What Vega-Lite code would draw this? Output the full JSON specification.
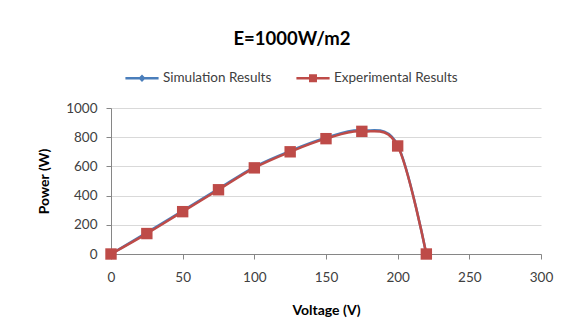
{
  "$schema": "https://vega.github.io/schema/vega-lite/v6.json",
  "width": 430,
  "height": 146,
  "autosize": {"type": "none"},
  "padding": {"left": 111, "top": 108, "right": 28, "bottom": 82},
  "background": "white",
  "title": {"text": "E=1000W/m2", "font": "Lato", "fontSize": 18.5, "fontWeight": "bold", "color": "#000000", "anchor": "middle", "dx": -34, "offset": 13},
  "datasets": {
    "sim": [
      {"v": 0, "p": 0, "series": "Simulation Results"},
      {"v": 25, "p": 146, "series": "Simulation Results"},
      {"v": 50, "p": 296, "series": "Simulation Results"},
      {"v": 75, "p": 446, "series": "Simulation Results"},
      {"v": 100, "p": 596, "series": "Simulation Results"},
      {"v": 125, "p": 705, "series": "Simulation Results"},
      {"v": 150, "p": 796, "series": "Simulation Results"},
      {"v": 175, "p": 846, "series": "Simulation Results"},
      {"v": 200, "p": 745, "series": "Simulation Results"},
      {"v": 220, "p": 0, "series": "Simulation Results"}
    ],
    "exp": [
      {"v": 0, "p": 0, "series": "Experimental Results"},
      {"v": 25, "p": 140, "series": "Experimental Results"},
      {"v": 50, "p": 290, "series": "Experimental Results"},
      {"v": 75, "p": 440, "series": "Experimental Results"},
      {"v": 100, "p": 590, "series": "Experimental Results"},
      {"v": 125, "p": 700, "series": "Experimental Results"},
      {"v": 150, "p": 790, "series": "Experimental Results"},
      {"v": 175, "p": 840, "series": "Experimental Results"},
      {"v": 200, "p": 740, "series": "Experimental Results"},
      {"v": 220, "p": 0, "series": "Experimental Results"}
    ]
  },
  "encoding": {
    "x": {"field": "v", "type": "quantitative", "scale": {"domain": [0, 300], "nice": false},
      "axis": {"title": "Voltage (V)", "values": [0, 50, 100, 150, 200, 250, 300], "format": "d", "labelFlush": false, "grid": false, "tickSize": 5, "labelPadding": 11, "titlePadding": 20}},
    "y": {"field": "p", "type": "quantitative", "scale": {"domain": [0, 1000], "nice": false},
      "axis": {"title": "Power (W)", "values": [0, 200, 400, 600, 800, 1000], "format": "d", "labelFlush": false, "grid": true, "tickSize": 5, "labelPadding": 9, "titlePadding": 14}},
    "color": {"field": "series", "type": "nominal",
      "scale": {"domain": ["Simulation Results", "Experimental Results"], "range": ["#4a7ebb", "#be4b48"]},
      "legend": {"title": null, "orient": "none", "direction": "horizontal", "legendX": 14, "legendY": -47,
        "symbolSize": 1100, "columnPadding": 24, "labelOffset": 4,
        "encode": {"symbols": {"update": {
          "shape": {"signal": "datum.value === 'Simulation Results' ? 'M-1,-0.07H1V0.07H-1Z M0,-0.22L0.22,0L0,0.22L-0.22,0Z' : 'M-1,-0.07H1V0.07H-1Z M-0.24,-0.24H0.24V0.24H-0.24Z'"},
          "fill": {"signal": "datum.value === 'Simulation Results' ? '#4a7ebb' : '#be4b48'"},
          "stroke": {"value": "transparent"},
          "strokeWidth": {"value": 0},
          "opacity": {"value": 1}
        }}}}}
  },
  "layer": [
    {"data": {"name": "sim"}, "mark": {"type": "line", "interpolate": "cardinal", "strokeWidth": 2.5}},
    {"data": {"name": "sim"}, "mark": {"type": "point", "shape": "diamond", "filled": true, "size": 50, "opacity": 1}},
    {"data": {"name": "exp"}, "mark": {"type": "line", "interpolate": "cardinal", "strokeWidth": 2.5}},
    {"data": {"name": "exp"}, "mark": {"type": "point", "shape": "square", "filled": true, "size": 130, "opacity": 1}}
  ],
  "config": {
    "font": "Lato",
    "view": {"stroke": null},
    "axis": {"labelFont": "Lato", "labelFontSize": 13.5, "labelColor": "#404040", "titleFont": "Lato", "titleFontSize": 14, "titleFontWeight": "bold", "titleColor": "#000000", "domainColor": "#868686", "tickColor": "#868686", "gridColor": "#d9d9d9", "domainWidth": 1, "gridWidth": 1},
    "legend": {"labelFont": "Lato", "labelFontSize": 13.5, "labelColor": "#404040"}
  }
}
